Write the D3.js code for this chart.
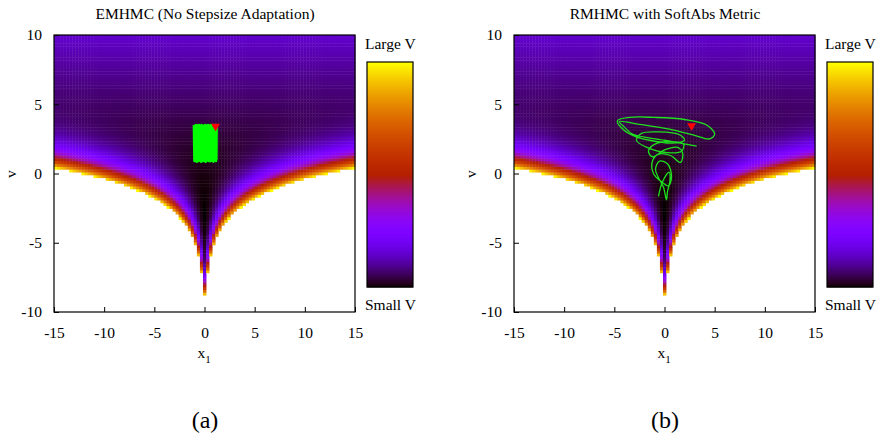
<!DOCTYPE html>
<html>
<head>
<meta charset="utf-8">
<script src="https://d3js.org/d3.v7.min.js"></script>
<style>
body { margin: 0; background: #fff; }
</style>
</head>
<body>
<div id="chart"></div>
<script>
// axes
const xDomain = [-15, 15],
      vDomain = [-10, 10];
const xTicks = [-15, -10, -5, 0, 5, 10, 15],
      vTicks = [-10, -5, 0, 5, 10];

// sampling of the potential (gnuplot isosamples) and the z cut-off
const nSamples = 100;
const zTop = 75;

const titles = ["EMHMC (No Stepsize Adaptation)", "RMHMC with SoftAbs Metric"];
const captions = ["(a)", "(b)"];
const cbLabels = ["Large V", "Small V"];

// trajectories (x1, v)
const trajA = [
  [-1.05, 3.5], [-1.0, 0.9], [-0.95, 3.45], [-0.9, 0.95], [-0.82, 3.5], [-0.78, 0.85],
  [-0.7, 3.45], [-0.62, 0.9], [-0.55, 3.5], [-0.5, 0.95], [-0.4, 3.45], [-0.35, 0.85],
  [-0.28, 3.5], [-0.2, 0.9], [-0.05, 3.45], [-0.02, 0.9], [0.08, 3.5], [0.12, 0.85],
  [0.2, 3.45], [0.28, 0.95], [0.36, 3.5], [0.42, 0.9], [0.5, 3.45], [0.58, 0.88],
  [0.66, 3.5], [0.72, 0.92], [0.8, 3.45], [0.88, 0.86], [0.95, 3.5], [1.02, 0.95],
  [1.1, 3.45], [1.15, 0.9], [1.2, 3.4], [1.18, 1.0]
];
const startA = [1.1, 3.4];

const trajB = [
  [-0.6, -1.65], [-0.2, -0.6], [0.45, 0.1], [0.55, -0.5], [0.3, -1.3], [0.2, -1.9],
  [-0.1, -1.0], [-0.6, -0.3], [-0.9, 0.3], [-0.5, 0.9], [0.3, 0.7], [0.7, -0.2],
  [0.4, -0.9], [-0.3, -0.6], [-1.1, 0.0], [-1.2, 0.9], [-0.6, 1.4], [0.6, 1.3],
  [1.6, 0.8], [1.8, 1.5], [1.2, 1.9], [0.0, 1.7], [-1.2, 1.2], [-1.6, 1.6],
  [-1.0, 2.1], [0.6, 2.3], [1.9, 2.1], [1.7, 1.6], [0.3, 1.5], [-1.8, 1.9],
  [-2.8, 2.4], [-2.3, 2.9], [-0.5, 3.0], [1.5, 2.8], [2.0, 2.4], [0.8, 2.2],
  [-1.5, 2.4], [-3.0, 2.7], [-4.0, 3.1], [-4.7, 3.8], [-3.5, 4.05], [-1.0, 4.05],
  [2.0, 3.9], [4.2, 3.5], [5.0, 2.85], [4.5, 2.5], [3.0, 2.75], [0.5, 3.2],
  [-2.5, 3.55], [-4.5, 3.75], [-4.0, 3.35], [-3.2, 2.85], [0.0, 2.4], [3.2, 1.97]
];
const startB = [2.7, 3.45];

// Neal's funnel potential
const potential = (x, v) => x * x * Math.exp(-v) / 2 + v / 2 + v * v / 18;

// gnuplot default palette (rgbformulae 7,5,15)
const palette = function(t) {
    t = Math.max(0, Math.min(1, t));
    const r = Math.sqrt(t), g = t * t * t, b = Math.max(0, Math.sin(2 * Math.PI * t));
    return d3.rgb(255 * r, 255 * g, 255 * b).toString();
};

const FONT = "'Liberation Serif', 'DejaVu Serif', 'Times New Roman', serif";
const FS = "15.5px";

const W = 880, H = 440;
const svg = d3.select("#chart").append("svg")
    .attr("width", W).attr("height", H)
    .attr("font-family", FONT);

// sample grid, quads coloured by the mean of their corners
const xs = d3.range(nSamples).map(i => xDomain[0] + i * (xDomain[1] - xDomain[0]) / (nSamples - 1));
const vs = d3.range(nSamples).map(j => vDomain[0] + j * (vDomain[1] - vDomain[0]) / (nSamples - 1));
const quads = [];
for (let i = 0; i < nSamples - 1; i++) {
    for (let j = 0; j < nSamples - 1; j++) {
        const z = (potential(xs[i], vs[j]) + potential(xs[i + 1], vs[j]) +
                   potential(xs[i], vs[j + 1]) + potential(xs[i + 1], vs[j + 1])) / 4;
        if (z <= zTop) quads.push({i: i, j: j, z: z});
    }
}
const zMin = d3.min(quads, d => d.z);
const tScale = d3.scaleLinear().domain([zMin, zTop]).range([0, 1]);

var addText = function(sel, x, y, txt, anchor, size) {
    return sel.append("text")
        .attr("x", x).attr("y", y)
        .attr("text-anchor", anchor || "start")
        .style("font-family", FONT)
        .style("font-size", size || FS)
        .style("fill", "#000")
        .text(txt);
};

const panel = function(k, traj, start, thick) {
    const ox = 460 * k;
    const plot = {left: 54 + ox, right: 355 + ox, top: 35, bottom: 312};
    const x = d3.scaleLinear().domain(xDomain).range([plot.left, plot.right]);
    const y = d3.scaleLinear().domain(vDomain).range([plot.bottom, plot.top]);
    const g = svg.append("g");

    g.append("clipPath").attr("id", "clip" + k)
        .append("rect")
        .attr("x", plot.left).attr("y", plot.top)
        .attr("width", plot.right - plot.left).attr("height", plot.bottom - plot.top);

    // heat map
    g.append("g")
        .selectAll("rect")
        .data(quads)
        .enter()
        .append("rect")
        .attr("x", d => x(xs[d.i]))
        .attr("y", d => y(vs[d.j + 1]))
        .attr("width", d => x(xs[d.i + 1]) - x(xs[d.i]) + 0.4)
        .attr("height", d => y(vs[d.j]) - y(vs[d.j + 1]) + 0.4)
        .style("fill", d => palette(tScale(d.z)));

    // trajectory
    const line = d3.line()
        .x(d => x(d[0])).y(d => y(d[1]))
        .curve(thick ? d3.curveLinear : d3.curveCatmullRom.alpha(0.5));
    g.append("path")
        .datum(traj)
        .attr("clip-path", "url(#clip" + k + ")")
        .attr("d", line)
        .style("fill", "none")
        .style("stroke", thick ? "#00ff00" : "#1ee01e")
        .style("stroke-width", thick ? 2.6 : 1.3)
        .style("stroke-linejoin", "round");

    g.append("path")
        .attr("d", d3.symbol(d3.symbolTriangle, 34)())
        .attr("transform", "translate(" + x(start[0]) + "," + y(start[1]) + ") rotate(180)")
        .style("fill", "#ff0000");

    // axes: ticks inward, no mirror
    const xAxis = d3.axisBottom(x).tickValues(xTicks).tickFormat(d => String(d))
        .tickSizeInner(-5).tickSizeOuter(0).tickPadding(15);
    const yAxis = d3.axisLeft(y).tickValues(vTicks).tickFormat(d => String(d))
        .tickSizeInner(-5).tickSizeOuter(0).tickPadding(12);

    g.append("g").attr("transform", "translate(0," + plot.bottom + ")").call(xAxis)
        .attr("font-family", FONT).attr("font-size", FS)
        .call(a => a.select(".domain").remove())
        .selectAll("text").style("font-family", FONT).style("font-size", FS);
    g.append("g").attr("transform", "translate(" + plot.left + ",0)").call(yAxis)
        .attr("font-family", FONT).attr("font-size", FS)
        .call(a => a.select(".domain").remove())
        .selectAll("text").style("font-family", FONT).style("font-size", FS);

    g.append("rect")
        .attr("x", plot.left).attr("y", plot.top)
        .attr("width", plot.right - plot.left).attr("height", plot.bottom - plot.top)
        .style("fill", "none").style("stroke", "#000").style("stroke-width", 1.2);

    // labels
    addText(g, 205 + ox, 19, titles[k], "middle");

    const xl = addText(g, 204 + ox, 358, "x", "middle");
    xl.text(null);
    xl.append("tspan").text("x");
    xl.append("tspan").attr("dy", 5).style("font-size", "11px").text("1");

    addText(g, 0, 0, "v", "middle")
        .attr("transform", "translate(" + (16 + ox) + ",174) rotate(-90)");

    addText(g, 205 + ox, 428, captions[k], "middle", "24px");

    // colour box
    const cb = {left: 367 + ox, right: 413 + ox, top: 62, bottom: 287};
    const cy = d3.scaleLinear().domain([0, 1]).range([cb.bottom, cb.top]);
    const steps = d3.range(0, 1, 1 / 225);
    g.append("g")
        .selectAll("rect")
        .data(steps)
        .enter()
        .append("rect")
        .attr("x", cb.left)
        .attr("y", d => cy(d + 1 / 225))
        .attr("width", cb.right - cb.left)
        .attr("height", cy(0) - cy(1 / 225) + 0.5)
        .style("fill", d => palette(d + 0.5 / 225));
    g.append("rect")
        .attr("x", cb.left).attr("y", cb.top)
        .attr("width", cb.right - cb.left).attr("height", cb.bottom - cb.top)
        .style("fill", "none").style("stroke", "#000").style("stroke-width", 1.2);

    addText(g, 365 + ox, 49, cbLabels[0]);
    addText(g, 365 + ox, 310, cbLabels[1]);
};

panel(0, trajA, startA, true);
panel(1, trajB, startB, false);
</script>
</body>
</html>
